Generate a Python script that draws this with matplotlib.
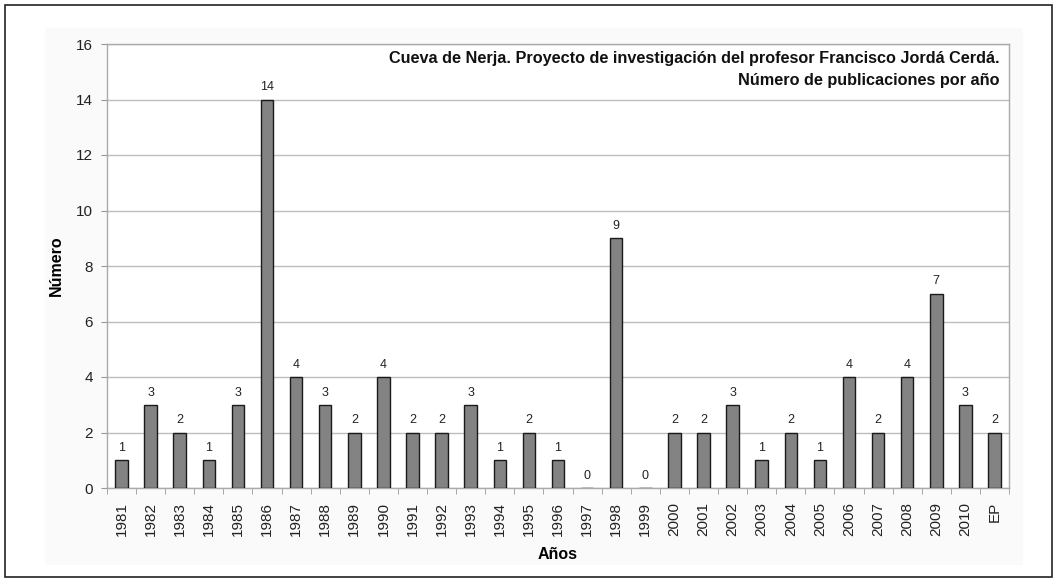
import matplotlib
matplotlib.use("Agg")
import matplotlib.pyplot as plt
from matplotlib.patches import Rectangle
import numpy as np

plt.rcParams['font.family'] = ['Liberation Sans', 'DejaVu Sans']

years = ['1981', '1982', '1983', '1984', '1985', '1986', '1987', '1988', '1989', '1990',
         '1991', '1992', '1993', '1994', '1995', '1996', '1997', '1998', '1999', '2000',
         '2001', '2002', '2003', '2004', '2005', '2006', '2007', '2008', '2009', '2010', 'EP']
counts = [1, 3, 2, 1, 3, 14, 4, 3, 2, 4,
          2, 2, 3, 1, 2, 1, 0, 9, 0, 2,
          2, 3, 1, 2, 1, 4, 2, 4, 7, 3, 2]
y_ticks = [0, 2, 4, 6, 8, 10, 12, 14, 16]
title_lines = ["Cueva de Nerja. Proyecto de investigación del profesor Francisco Jordá Cerdá.",
               "Número de publicaciones por año"]

W, H = 1057, 582
fig = plt.figure(figsize=(W / 100, H / 100), dpi=100)
fig.patch.set_facecolor('white')

# faint chart-area background
fig.patches.append(Rectangle((45 / W, 1 - 565 / H), (1023 - 45) / W, (565 - 28) / H,
                             transform=fig.transFigure, facecolor='#fafafa',
                             edgecolor='none', zorder=-10))
# outer frame
fig.patches.append(Rectangle((5 / W, 5 / H), (W - 10) / W, (H - 10) / H,
                             transform=fig.transFigure, fill=False,
                             edgecolor='#222222', linewidth=1.2, zorder=-5))

left, right, top, bottom = 107, 1009, 44, 488
ax = fig.add_axes([left / W, 1 - bottom / H, (right - left) / W, (bottom - top) / H])
ax.set_facecolor('white')

x = np.arange(len(years))
ax.bar(x, counts, width=0.43, color='#838383', edgecolor='#1a1a1a', linewidth=1.0, zorder=3)
for xi, c in zip(x, counts):
    ax.annotate(str(c), (xi, c), xytext=(0, 4.5), textcoords='offset points',
                ha='center', va='bottom', fontsize=9, color='#222222')

ax.set_xlim(-0.5, len(years) - 0.5)
ax.set_ylim(0, 16)
ax.set_yticks(y_ticks)
ax.yaxis.grid(True, color='#bdbdbd', linewidth=1.0, zorder=0)
ax.set_axisbelow(True)
ax.tick_params(axis='y', labelsize=11, length=4, color='#999999', labelcolor='#222222', pad=6)

ax.set_xticks(x)
ax.set_xticklabels(years, rotation=90, fontsize=11, color='#222222')
ax.tick_params(axis='x', length=0, pad=10)
ax.set_xticks(np.arange(-0.5, len(years), 1.0), minor=True)
ax.tick_params(axis='x', which='minor', length=4, color='#999999')

for s in ['left', 'bottom', 'right', 'top']:
    ax.spines[s].set_color('#aaaaaa')
    ax.spines[s].set_linewidth(1.0)

ax.set_ylabel('Número', fontsize=11.5, fontweight='bold', labelpad=9)
ax.set_xlabel('Años', fontsize=11.5, fontweight='bold', labelpad=8)

ty = [58, 80]
for line, yy in zip(title_lines, ty):
    ax.text(1000 / W, 1 - yy / H, line, transform=fig.transFigure,
            ha='right', va='center', fontsize=11.7, fontweight='bold', color='#111111')

fig.savefig('out.png', dpi=100, facecolor='white')
